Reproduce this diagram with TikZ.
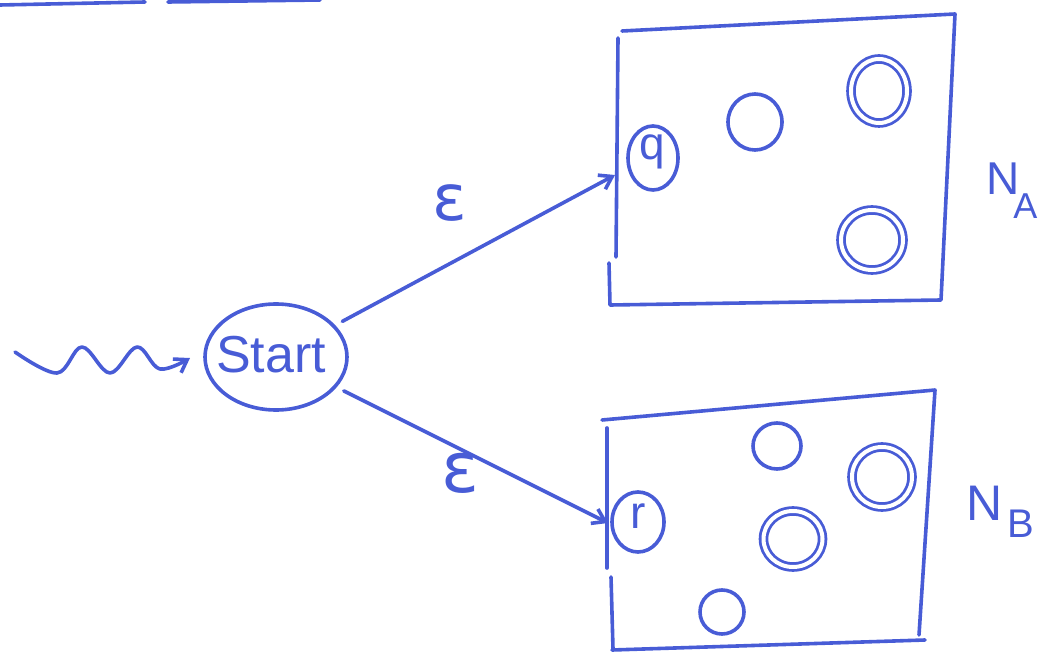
\documentclass[tikz,border=0pt]{standalone}
\usepackage{fontspec}
\setmainfont{Liberation Sans}
\newfontfamily\symfont{DejaVu Sans}
\usetikzlibrary{shapes.geometric,arrows.meta}
\definecolor{ink}{RGB}{72,92,214}
\begin{document}
\begin{tikzpicture}[x=1pt,y=-1pt,
  pen/.style={draw=ink, line width=3.6pt, line cap=round, line join=round},
  st/.style={ellipse, pen, inner sep=0pt},
  acc/.style={ellipse, draw=ink, line width=2.8pt, double=white, double distance=4pt, inner sep=0pt},
  lbl/.style={text=ink, inner sep=0pt},
  tip/.style={-{Straight Barb[length=12pt,width=16pt]}}]
\useasboundingbox (0,0) rectangle (1041,652);
% top stray lines
\draw[pen] (0,5) -- (145,2);
\draw[pen] (168,2) -- (320,0);
% start node
\node[st, minimum width=142pt, minimum height=106pt] (start) at (276,357) {};
\node[lbl, font=\fontsize{52}{52}\selectfont] (starttxt) at (271,355) {Start};
% wavy incoming arrow
\coordinate (w0) at (15,352);
\draw[pen, tip] plot[smooth, tension=0.6] coordinates {(w0) (57,373) (82,347) (110,373) (137,347) (160,369) (190,358)};
% box A
\draw[pen] (618,38) -- (616,257);
\draw[pen] (609,263) -- (610,305) -- (941,300) -- (955,14) -- (622,31);
% box B
\draw[pen] (602,420) -- (935,390) -- (919,635);
\draw[pen] (612,650) -- (925,640);
\draw[pen] (607,428) -- (607,568);
\draw[pen] (611,577) -- (613,649);
% states in A
\node[st, minimum width=50pt, minimum height=64pt] (q) at (653,158) {};
\node[lbl, font=\fontsize{46}{46}\selectfont] at (652,152) {q};
\node[st, minimum width=54pt, minimum height=56pt] (a1) at (755,122) {};
\node[acc, minimum width=56pt, minimum height=64pt] (a2) at (879,91) {};
\node[acc, minimum width=62pt, minimum height=60pt] (a3) at (872,240) {};
% states in B
\node[st, minimum width=52pt, minimum height=60pt] (r) at (638,522) {};
\node[lbl, font=\fontsize{46}{46}\selectfont] at (638,516) {r};
\node[st, minimum width=48pt, minimum height=46pt] (b1) at (777,446) {};
\node[acc, minimum width=60pt, minimum height=60pt] (b2) at (882,477) {};
\node[acc, minimum width=59pt, minimum height=56pt] (b3) at (793,539) {};
\node[st, minimum width=44pt, minimum height=44pt] (b4) at (722,612) {};
% epsilon arrows
\coordinate (qin) at (615,175);
\coordinate (rin) at (608,523);
\draw[pen, tip, shorten <=8pt] (start) -- (qin);
\draw[pen, tip, shorten <=8pt] (start) -- (rin);
\node[lbl, font=\symfont\fontsize{64}{64}\selectfont] (e1) at (450,203) {ε};
\node[lbl, font=\symfont\fontsize{70}{70}\selectfont] (e2) at (460,473) {ε};
% labels
\node[lbl, anchor=base west] (na) at (986,195) {\fontsize{46}{46}\selectfont N\kern-6pt\raisebox{-24pt}{\fontsize{36}{36}\selectfont A}};
\node[lbl, anchor=base west] (nb) at (966,520) {\fontsize{50}{50}\selectfont N\kern5pt\raisebox{-17pt}{\fontsize{40}{40}\selectfont B}};
\end{tikzpicture}
\end{document}
